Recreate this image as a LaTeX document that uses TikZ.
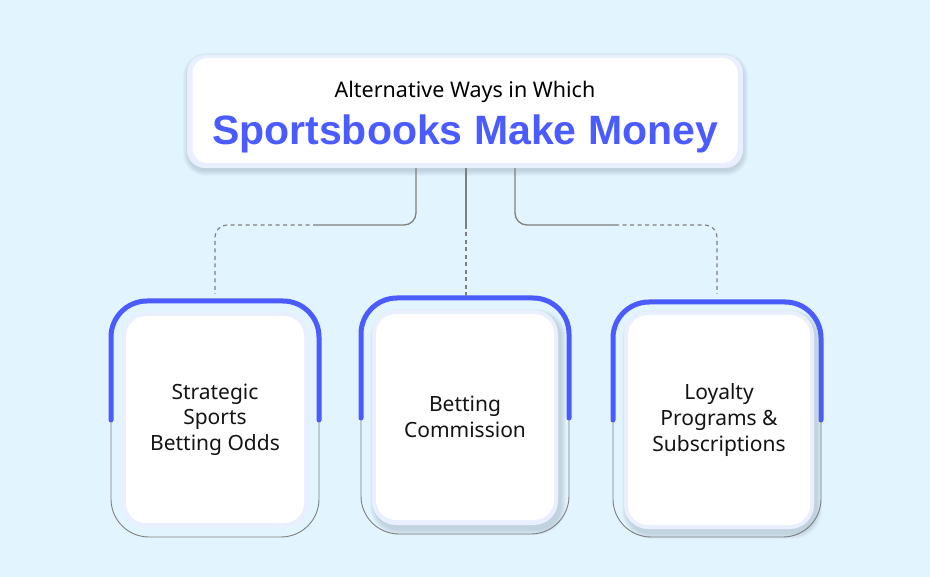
\documentclass[tikz,border=0pt]{standalone}
\usepackage{fontspec}
\setmainfont{Noto Sans}
\newfontfamily\heavyfont{Liberation Sans}
\definecolor{bgc}{HTML}{E2F4FE}
\definecolor{accent}{HTML}{4A5BFF}
\definecolor{ring}{HTML}{E9EFFE}
\definecolor{conn}{HTML}{7F7F7F}
\definecolor{shade}{HTML}{6F8090}
\tikzset{
  whitebox/.style={draw=none, fill=white, rounded corners=20pt, inner sep=0pt},
  ringbox/.style={fill=ring, rounded corners=24pt},
  softshade/.style={fill=shade, opacity=0.05},
  frameline/.style={draw=conn, line width=0.9pt, rounded corners=38pt},
  bluearc/.style={draw=accent, line width=5pt, rounded corners=36pt, line cap=round},
  solidconn/.style={draw=conn, line width=1.3pt, rounded corners=12pt},
  dashconn/.style={draw=conn, line width=1.1pt, dash pattern=on 4pt off 3.5pt, rounded corners=12pt},
  cardtext/.style={align=center, text=black!92, font=\fontsize{21}{25.7}\selectfont},
}
\begin{document}
\begin{tikzpicture}[x=1pt, y=-1pt]
\fill[bgc] (0,0) rectangle (930,577);
\useasboundingbox (0,0) rectangle (930,577);

% title box
\foreach \s in {0,...,5}
  \fill[softshade, rounded corners=18pt+\s pt] (188-\s,58-\s) rectangle (743+\s,171+\s);
\fill[ringbox, rounded corners=18pt] (187,55) rectangle (743,168);
\node[whitebox, rounded corners=15pt, minimum width=545pt, minimum height=105pt] (title) at (465,110.5) {};
\node[anchor=base, font=\fontsize{21.5}{24}\selectfont, text=black] (sub) at (465,98) {Alternative Ways in Which};
\node[anchor=base, font=\heavyfont\bfseries\fontsize{41}{46}\selectfont, text=accent] (main) at (465,145) {Sportsbooks Make Money};

% card frames
\draw[frameline] (111,420) -- (111,537) -- (319,537) -- (319,420);
\draw[bluearc] (111,420) -- (111,301) -- (319,301) -- (319,420);
\draw[frameline] (361,418) -- (361,534) -- (569,534) -- (569,418);
\draw[bluearc] (361,418) -- (361,298) -- (569,298) -- (569,418);
\draw[frameline] (613,420) -- (613,537) -- (821,537) -- (821,420);
\draw[bluearc] (613,420) -- (613,302) -- (821,302) -- (821,420);

% card bodies
\fill[ringbox] (122,312) rectangle (308,528);
\node[whitebox, minimum width=178pt, minimum height=207pt, cardtext] (c1) at (215,419.5) {Strategic\\Sports\\Betting Odds};
\foreach \s in {0,...,5}
  \fill[softshade, rounded corners=24pt+\s pt] (375-\s,314-\s) rectangle (561+\s,530+\s);
\fill[ringbox] (372,310) rectangle (558,525);
\node[whitebox, minimum width=178pt, minimum height=206pt, cardtext] (c2) at (465,417) {Betting\\Commission};
\foreach \s in {0,...,5}
  \fill[softshade, rounded corners=24pt+\s pt] (627-\s,315-\s) rectangle (817+\s,534+\s);
\fill[ringbox] (624,311) rectangle (814,529);
\node[whitebox, minimum width=182pt, minimum height=210pt, cardtext] (c3) at (719,420) {Loyalty\\Programs \&\\Subscriptions};

% connectors
\coordinate (j1) at (317,225);
\coordinate (j2) at (466,225);
\coordinate (j3) at (615,225);
\coordinate (e1) at (215,294);
\coordinate (e2) at (466,296);
\coordinate (e3) at (717,294);
\draw[solidconn] (416,168) -- (416,225) -- (j1);
\draw[dashconn] (j1) -- (215,225) -- (e1);
\draw[solidconn] (466,168) -- (j2);
\draw[dashconn] (j2) -- (e2);
\draw[solidconn] (515,168) -- (515,225) -- (j3);
\draw[dashconn] (j3) -- (717,225) -- (e3);
\end{tikzpicture}
\end{document}
